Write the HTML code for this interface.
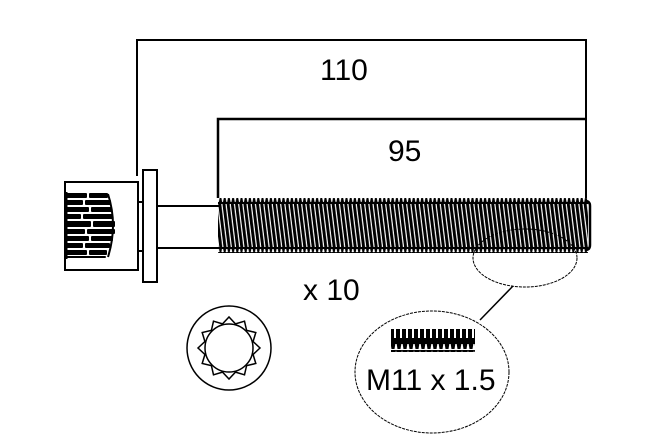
<!DOCTYPE html>
<html><head><meta charset="utf-8"><style>
html,body{margin:0;padding:0;background:#fff;}
svg{display:block;}
text{font-family:"Liberation Sans",Arial,sans-serif;fill:#000;}
</style></head><body>
<svg width="662" height="438" viewBox="0 0 662 438" xmlns="http://www.w3.org/2000/svg">
<defs>
  <pattern id="thr" patternUnits="userSpaceOnUse" width="4.2" height="60" patternTransform="skewX(7)">
    <rect x="0" y="0" width="3" height="60" fill="#000"/>
  </pattern>
  <pattern id="teethT" patternUnits="userSpaceOnUse" width="4.2" height="6">
    <polygon points="0,6 1.2,0 3,0 4.2,6" fill="#000"/>
  </pattern>
  <pattern id="teethB" patternUnits="userSpaceOnUse" width="4.2" height="6">
    <polygon points="0,0 1.2,6 3,6 4.2,0" fill="#000"/>
  </pattern>
  <pattern id="smallbars" patternUnits="userSpaceOnUse" width="6" height="20">
    <rect x="0" y="0" width="4" height="20" fill="#000"/>
  </pattern>
  <pattern id="smallteeth" patternUnits="userSpaceOnUse" width="6" height="10">
    <polygon points="0,0 6,0 4.5,9 1.5,9" fill="#000"/>
  </pattern>
</defs>

<!-- dimension lines -->
<polyline points="137,176 137,40 586,40 586,198" fill="none" stroke="#000" stroke-width="2"/>
<polyline points="218,198 218,119 586,119" fill="none" stroke="#000" stroke-width="2.5"/>
<text x="320" y="80" font-size="30">110</text>
<text x="388" y="161" font-size="30">95</text>

<!-- head -->
<rect x="65" y="182" width="73" height="88" fill="#fff" stroke="#000" stroke-width="2"/>
<g fill="#000">
  <rect x="66" y="193" width="21" height="5" rx="1"/>
  <rect x="89" y="193" width="19" height="5" rx="1"/>
  <rect x="66" y="200" width="17" height="5" rx="1"/>
  <rect x="85" y="200" width="26" height="5" rx="1"/>
  <rect x="66" y="207" width="23" height="5" rx="1"/>
  <rect x="91" y="207" width="21" height="5" rx="1"/>
  <rect x="66" y="214" width="15" height="5" rx="1"/>
  <rect x="83" y="214" width="30" height="5" rx="1"/>
  <rect x="66" y="221" width="25" height="6" rx="1"/>
  <rect x="93" y="221" width="22" height="6" rx="1"/>
  <rect x="66" y="229" width="19" height="5" rx="1"/>
  <rect x="87" y="229" width="28" height="5" rx="1"/>
  <rect x="66" y="236" width="23" height="5" rx="1"/>
  <rect x="91" y="236" width="22" height="5" rx="1"/>
  <rect x="66" y="243" width="17" height="5" rx="1"/>
  <rect x="85" y="243" width="25" height="5" rx="1"/>
  <rect x="66" y="250" width="21" height="5" rx="1"/>
  <rect x="89" y="250" width="18" height="5" rx="1"/>
  <rect x="66" y="256" width="40" height="2" rx="1"/>
</g>
<path d="M108,194 Q118,225 108,257" fill="none" stroke="#000" stroke-width="2"/>
<line x1="66" y1="192" x2="66" y2="259" stroke="#000" stroke-width="3"/>

<!-- neck -->
<line x1="138" y1="202" x2="143" y2="202" stroke="#000" stroke-width="2"/>
<line x1="138" y1="251" x2="143" y2="251" stroke="#000" stroke-width="2"/>
<!-- washer -->
<rect x="143" y="170" width="14" height="112" fill="#fff" stroke="#000" stroke-width="2"/>
<!-- shank -->
<line x1="157" y1="206" x2="219" y2="206" stroke="#000" stroke-width="2"/>
<line x1="157" y1="248" x2="219" y2="248" stroke="#000" stroke-width="2"/>

<!-- thread -->
<rect x="218" y="202" width="370" height="47" fill="url(#thr)"/>
<rect x="218" y="198" width="370" height="6" fill="url(#teethT)"/>
<rect x="218" y="247" width="370" height="6" fill="url(#teethB)"/>
<line x1="218" y1="203" x2="588" y2="203" stroke="#000" stroke-width="2"/>
<line x1="218" y1="248" x2="588" y2="248" stroke="#000" stroke-width="2"/>
<path d="M585,201 Q590,201 590,206 L590,245 Q590,250 585,250" fill="none" stroke="#000" stroke-width="2.5"/>

<!-- detail ellipse over thread -->
<ellipse cx="525" cy="258" rx="52" ry="29" fill="none" stroke="#000" stroke-width="1" stroke-dasharray="3,1"/>
<line x1="513" y1="286" x2="480" y2="320" stroke="#000" stroke-width="1.5"/>

<!-- x 10 -->
<text x="303" y="300" font-size="30">x 10</text>

<!-- end view icon -->
<circle cx="229" cy="348" r="42" fill="#fff" stroke="#000" stroke-width="1.5"/>
<polygon fill="#fff" stroke="#000" stroke-width="1.5" points="
260.0,348.0 253.1,354.5 255.8,363.5 246.6,365.6 244.5,374.8 235.5,372.1 229.0,379.0 222.5,372.1 213.5,374.8 211.4,365.6 202.2,363.5 204.9,354.5 198.0,348.0 204.9,341.5 202.2,332.5 211.4,330.4 213.5,321.2 222.5,323.9 229.0,317.0 235.5,323.9 244.5,321.2 246.6,330.4 255.8,332.5 253.1,341.5"/>
<circle cx="229" cy="348" r="24" fill="#fff" stroke="#000" stroke-width="1.5"/>

<!-- detail ellipse bottom -->
<ellipse cx="432" cy="372" rx="77" ry="61" fill="#fff" stroke="#000" stroke-width="1" stroke-dasharray="3,1"/>
<rect x="391" y="329" width="84" height="10" fill="url(#smallbars)"/>
<rect x="391" y="338" width="84" height="6" fill="#000"/>
<rect x="391" y="343" width="84" height="9" fill="url(#smallteeth)"/>
<text x="366" y="390" font-size="30">M11 x 1.5</text>
</svg>
</body></html>
